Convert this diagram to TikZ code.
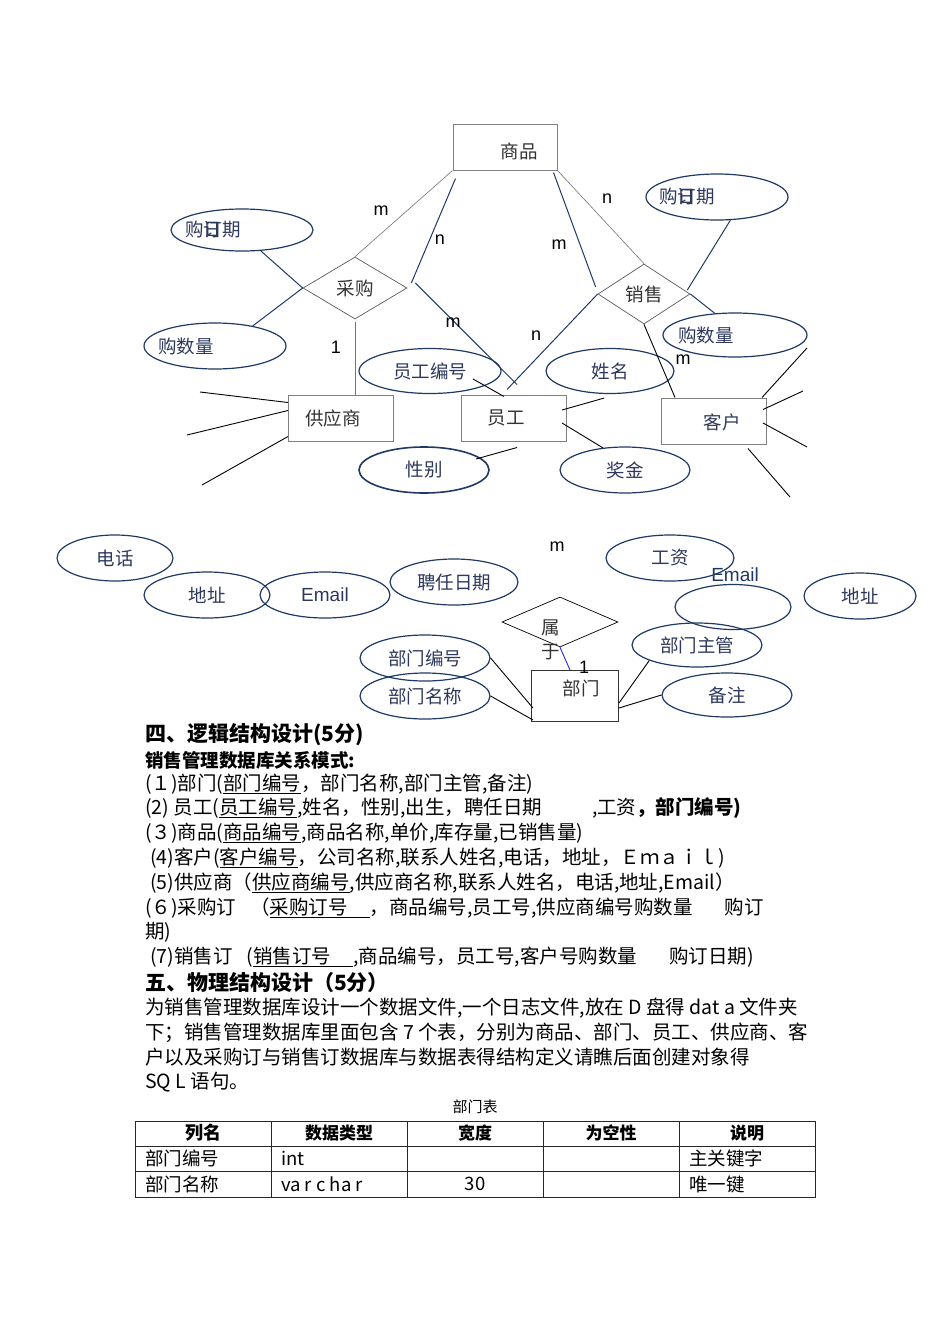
\documentclass[tikz,border=0pt]{standalone}
\usepackage{fontspec}
\setmainfont{Noto Sans CJK SC}
\newfontfamily\arialfont{Liberation Sans}
\usetikzlibrary{shapes.geometric}

\definecolor{navy}{RGB}{31,56,100}
\definecolor{attrtext}{RGB}{46,56,92}
\definecolor{boxgray}{RGB}{128,128,128}
\definecolor{linkblue}{RGB}{40,40,215}

\newcommand{\erfont}{\fontsize{18.5}{20}\selectfont}
\newcommand{\bodyfont}{\fontsize{19.5}{22}\selectfont}
\newcommand{\headfont}{\fontsize{21}{24}\selectfont\bfseries}

\begin{document}
\begin{tikzpicture}[x=1pt, y=-1pt,
  every label/.style={font=\erfont, inner sep=0pt},
  entity/.style={draw=boxgray, line width=1pt, rectangle, inner sep=0pt},
  attr/.style={draw=navy, line width=1.2pt, ellipse, inner sep=0pt, font=\erfont, text=attrtext},
  rel/.style={draw=black!65, line width=0.7pt, diamond, inner sep=0pt, font=\erfont, text=black!80},
  card/.style={font=\arialfont\fontsize{18}{18}\selectfont, inner sep=0pt},
  nline/.style={navy, line width=1pt},
  gline/.style={black!55, line width=0.6pt},
  bline/.style={black, line width=0.9pt},
  txt/.style={anchor=west, inner sep=0pt, font=\bodyfont}]
\useasboundingbox (0,0) rectangle (950,1344);

% entities and relations
\node[entity, minimum width=104pt, minimum height=46pt, label={[xshift=14pt,yshift=-4pt,text=black!80]center:商品}] (sp) at (505,147) {};
\node[entity, minimum width=105pt, minimum height=46pt, label={[xshift=-8pt,text=black!80]center:供应商}] (gys) at (341,418) {};
\node[entity, minimum width=105pt, minimum height=46pt, label={[xshift=-8pt,text=black!80]center:员工}] (yg) at (514,418) {};
\node[entity, minimum width=105pt, minimum height=46pt, label={[xshift=8pt,yshift=-1pt,text=attrtext]center:客户}] (kh) at (714,421) {};
\node[entity, draw=black!80, minimum width=87pt, minimum height=51pt, label={[xshift=6pt,yshift=8pt,text=black!80]center:部门}] (bm) at (575,696) {};
\node[rel, minimum width=104pt, minimum height=62pt] (cg) at (355,288) {采购};
\node[rel, minimum width=92pt, minimum height=60pt] (xs) at (644,294) {销售};
\node[rel, draw=black, minimum width=116pt, minimum height=50pt,
      label={[xshift=-9pt,yshift=-18pt,align=center,font=\fontsize{18.5}{24}\selectfont,text=black!80]center:属\\于}] (sy) at (560,622) {};

% attributes
\node[attr, minimum width=142pt, minimum height=42pt, label={[xshift=-29pt,text=attrtext]center:购\makebox[0pt][l]{订}日期}] (gdL) at (242,230) {};
\node[attr, minimum width=142pt, minimum height=46pt, label={[xshift=-29pt,text=attrtext]center:购数量}] (slL) at (215,346) {};
\node[attr, minimum width=142pt, minimum height=46pt, label={[xshift=-30pt,text=attrtext]center:购\makebox[0pt][l]{订}日期}] (gdR) at (717,197) {};
\node[attr, minimum width=144pt, minimum height=44pt, label={[xshift=-29pt,text=attrtext]center:购数量}] (slR) at (735,335) {};
\node[attr, minimum width=142pt, minimum height=45pt] (ygbh) at (430,371) {员工编号};
\node[attr, minimum width=128pt, minimum height=45pt] (xm) at (610,371) {姓名};
\node[attr, line width=1.6pt, minimum width=130pt, minimum height=46pt] (xb) at (424,470) {性别};
\node[attr, minimum width=130pt, minimum height=46pt] (jj) at (625,470) {奖金};
\node[attr, minimum width=116pt, minimum height=46pt] (dh) at (115,558) {电话};
\node[attr, minimum width=126pt, minimum height=46pt] (dzL) at (207,595) {地址};
\node[attr, minimum width=130pt, minimum height=46pt, font=\arialfont\fontsize{19}{20}\selectfont] (em) at (325,595) {Email};
\node[attr, minimum width=128pt, minimum height=46pt] (prrq) at (454,582) {聘任日期};
\node[attr, minimum width=128pt, minimum height=46pt] (gz) at (670,558) {工资};
\node[attr, minimum width=116pt, minimum height=45pt] (kong) at (733,607) {};
\node[inner sep=0pt, font=\arialfont\fontsize{19}{20}\selectfont, text=navy] (emR) at (735,575) {Email};
\node[attr, minimum width=112pt, minimum height=46pt] (dzR) at (860,596) {地址};
\node[attr, minimum width=130pt, minimum height=46pt] (bmbh) at (425,658) {部门编号};
\node[attr, minimum width=130pt, minimum height=46pt] (bmmc) at (425,696) {部门名称};
\node[attr, minimum width=130pt, minimum height=44pt] (bmzg) at (697,645) {部门主管};
\node[attr, minimum width=130pt, minimum height=44pt] (bz) at (727,695) {备注};

% free ends
\coordinate (g1) at (200,392);
\coordinate (g2) at (187,435);
\coordinate (g3) at (202,485);
\coordinate (k1) at (807,348);
\coordinate (k2) at (803,391);
\coordinate (k3) at (807,447);
\coordinate (k4) at (790,497);

% connectors
\draw[gline] (sp.south west) -- (cg.north);
\draw[nline] ([xshift=3pt,yshift=-8pt]sp.south west) -- ([xshift=4pt,yshift=5pt]cg.east);
\draw[nline] (gdL.-48) -- (cg.west);
\draw[nline] (cg.west) -- (slL.28);
\draw[gline] ([yshift=-3pt]cg.south) -- (cg.south |- gys.north);
\draw[nline] ([xshift=8pt,yshift=5pt]cg.east) -- ([xshift=3pt,yshift=10pt]yg.north);
\draw[nline] (xs.west) -- ([xshift=-7pt,yshift=5pt]yg.north);
\draw[gline] (sp.south east) -- (xs.north);
\draw[nline] ([xshift=-4pt,yshift=-2pt]sp.south east) -- ([xshift=-2pt,yshift=7pt]xs.west);
\draw[nline] (gdR.-60) -- ([xshift=-3pt,yshift=4pt]xs.east);
\draw[nline] (xs.east) -- (slR.133);
\draw[bline] (xs.south) -- ([xshift=14pt]kh.north west);
\draw[bline] ([xshift=43pt,yshift=-8pt]ygbh.center) -- ([xshift=-10pt,yshift=-2pt]yg.north);
\draw[bline] ([xshift=-5pt,yshift=8pt]yg.east) -- ([xshift=-6pt,yshift=-4pt]xm.south);
\draw[bline] ([xshift=-5pt,yshift=-5pt]yg.east) -- (jj.135);
\draw[bline] ([xshift=52pt,yshift=11pt]xb.center) -- ([xshift=3pt,yshift=-6pt]yg.south);
\draw[bline] (g1) -- ([yshift=-8pt]gys.north west);
\draw[bline] (g2) -- ([yshift=-16pt]gys.north west);
\draw[bline] (g3) -- ([yshift=5pt]gys.south west);
\draw[bline] ([xshift=-5pt]kh.north east) -- (k1);
\draw[bline] ([xshift=-4pt,yshift=-12pt]kh.north east) -- (k2);
\draw[bline] ([xshift=-4pt,yshift=-2pt]kh.east) -- (k3);
\draw[bline] ([xshift=-19pt,yshift=-4pt]kh.south east) -- (k4);
\draw[linkblue, line width=0.9pt] (sy.south) -- ([xshift=-5pt]bm.north);
\draw[bline] (bmbh.east) -- ([xshift=2pt,yshift=-12pt]bm.west);
\draw[bline] (bmmc.east) -- ([xshift=2pt,yshift=2pt]bm.south west);
\draw[bline] (bmzg.198) -- ([yshift=-7pt]bm.east);
\draw[bline] (bz.west) -- ([yshift=-12pt]bm.east);

% cardinalities
\node[card] (m1) at (381,211) {m};
\node[card] (n1) at (440,240) {n};
\node[card] (m2) at (559,245) {m};
\node[card] (n2) at (607,199) {n};
\node[card] (m3) at (453,323) {m};
\node[card] (n3) at (536,336) {n};
\node[card] (c1) at (336,347) {1};
\node[card] (m4) at (683,360) {m};
\node[card] (m5) at (557,547) {m};
\node[card] (c2) at (584,667) {1};

% text below
\node[txt, font=\headfont] (h4) at (145,735) {四、逻辑结构设计(5分)};
\node[txt, font=\fontsize{18.5}{20}\selectfont\bfseries] (rs) at (145,760) {销售管理数据库关系模式:};
\node[txt] (r1) at (145,784) {(１)部门(\underline{部门编号}，部门名称,部门主管,备注)};
\node[txt] (r2) at (145,808) {(2) 员工(\underline{员工编号},姓名，性别,出生，聘任日期\hspace{50pt},工资{\bfseries ，部门编号)}};
\node[txt] (r3) at (145,833) {(３)商品(\underline{商品编号},商品名称,单价,库存量,已销售量)};
\node[txt] (r4) at (150,858) {(4)客户(\underline{客户编号}，公司名称,联系人姓名,电话，地址，Ｅｍａｉｌ)};
\node[txt] (r5) at (150,883) {(5)供应商（\underline{供应商编号},供应商名称,联系人姓名，电话,地址,Email）};
\node[txt] (r6) at (145,908) {(６)采购订\hspace{14pt}（\underline{采购订号\hspace{22pt}}，商品编号,员工号,供应商编号购数量\hspace{32pt}购订};
\node[txt] (r6b) at (145,932) {期)};
\node[txt] (r7) at (150,957) {(7)销售订\hspace{14pt}(\underline{销售订号\hspace{22pt}},商品编号，员工号,客户号购数量\hspace{32pt}购订日期)};
\node[txt, font=\headfont] (h5) at (145,983) {五、物理结构设计（5分）};
\node[txt] (p1) at (145,1008) {为销售管理数据库设计一个数据文件,一个日志文件,放在 D 盘得 dat a 文件夹};
\node[txt] (p2) at (145,1033) {下；销售管理数据库里面包含 7 个表，分别为商品、部门、员工、供应商、客};
\node[txt] (p3) at (145,1057) {户以及采购订与销售订数据库与数据表得结构定义请瞧后面创建对象得};
\node[txt] (p4) at (145,1082) {SQ L 语句。};

% table
\node[inner sep=0pt, font=\fontsize{15}{16}\selectfont] (cap) at (475,1107) {部门表};
\draw[black!85, line width=0.8pt] (135,1121) rectangle (815,1197);
\foreach \y in {1146,1171} \draw[black!85, line width=0.8pt] (135,\y) -- (815,\y);
\foreach \x in {271,407,543,679} \draw[black!85, line width=0.8pt] (\x,1121) -- (\x,1197);
\node[inner sep=0pt, font=\fontsize{18}{20}\selectfont\bfseries] (th1) at (203,1133) {列名};
\node[inner sep=0pt, font=\fontsize{17}{20}\selectfont\bfseries] (th2) at (339,1133) {数据类型};
\node[inner sep=0pt, font=\fontsize{17}{20}\selectfont\bfseries] (th3) at (475,1133) {宽度};
\node[inner sep=0pt, font=\fontsize{17}{20}\selectfont\bfseries] (th4) at (611,1133) {为空性};
\node[inner sep=0pt, font=\fontsize{17}{20}\selectfont\bfseries] (th5) at (747,1133) {说明};
\node[txt, font=\erfont] (c11) at (145,1158) {部门编号};
\node[txt, font=\erfont] (c12) at (281,1158) {int};
\node[txt, font=\erfont] (c15) at (689,1158) {主关键字};
\node[txt, font=\erfont] (c21) at (145,1184) {部门名称};
\node[txt, font=\erfont] (c22) at (281,1184) {va r c ha r};
\node[inner sep=0pt, font=\erfont] (c23) at (475,1184) {30};
\node[txt, font=\erfont] (c25) at (689,1184) {唯一键};
\end{tikzpicture}
\end{document}
